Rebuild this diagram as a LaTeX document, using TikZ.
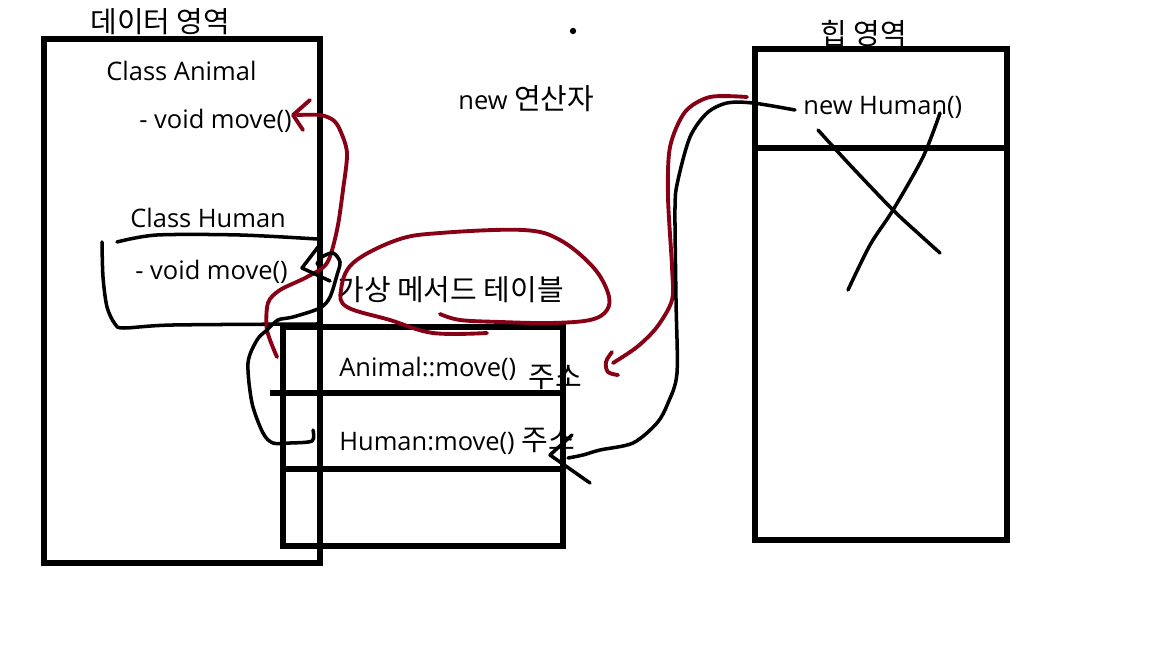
\documentclass[tikz,border=0pt]{standalone}
\usepackage{fontspec}
\setmainfont{Open Sans}
\newfontfamily\krfont{Noto Sans CJK KR}
\newcommand\kr{\krfont\fontsize{16.5}{19}\selectfont}
\usetikzlibrary{calc}
\definecolor{paintred}{RGB}{136,0,21}
\tikzset{
  box/.style={line width=3pt, line cap=rect},
  pen/.style={line width=2pt, line cap=round, line join=round},
  redpen/.style={pen, color=paintred, line width=2.2pt},
  txt/.style={anchor=base west, inner sep=0pt, font=\fontsize{14.5}{17}\selectfont},
}

\begin{document}
\begin{tikzpicture}[x=0.02cm, y=-0.02cm]
  %%%%% START %%%%%
  \useasboundingbox[fill=white] (0,0) rectangle (1152,648);

  % data area
  \draw[box] (44,39) rectangle (320,563);
  \node[txt] (datalbl) at (90,33) {\kr 데이터 영역};
  \node[txt] (animal) at (106,81) {Class Animal};
  \node[txt] (amove) at (139,129) {- void move()};
  \node[txt] (human) at (130,228) {Class Human};
  \node[txt] (hmove) at (135,280) {- void move()};

  % loop round Human's method
  \draw[pen] plot[smooth, tension=0.5] coordinates {(117,242) (157,235) (240,235) (317,239)};
  \draw[pen] plot[smooth, tension=0.5] coordinates {(102,242) (103,277) (107,307) (115,324) (124,328) (173,325) (318,324)};

  % virtual method table
  \draw[box] (283,327) rectangle (563,546);
  \draw[box] (273,393) -- (563,393);
  \draw[box] (283,469) -- (563,469);
  \node[txt] (vtlbl) at (337,300) {\kr 가상 메서드 테이블};
  \node[txt] (arow) at (339,377) {Animal::move()};
  \node[txt] (aaddr) at (528,387) {\kr 주소};
  \node[txt] (hrow) at (339,450) {Human:move() {\kr 주소}};

  % heap area
  \draw[box] (755,49) rectangle (1007,540);
  \draw[box] (758,148) -- (1007,148);
  \node[txt] (heaplbl) at (820,45) {\kr 힙 영역};
  \node[txt] (newhuman) at (803,115) {new Human()};
  \draw[pen] plot[smooth, tension=0.5] coordinates {(818,130) (850,165) (893,210) (920,235) (940,253)};
  \draw[pen] plot[smooth, tension=0.5] coordinates {(940,113) (923,157) (893,210) (870,245) (848,290)};

  \node[txt] (newop) at (458,110) {new {\kr 연산자}};
  \fill (573,31) circle (1.8pt);

  % red marks
  \draw[redpen] plot[smooth, tension=0.6] coordinates {(440,314) (460,320) (500,322) (550,323) (590,320) (607,310) (608,293) (593,267) (560,240) (523,230) (440,233) (397,240) (353,263) (341,290) (347,307) (390,320) (433,333) (487,333)};
  \draw[redpen] plot[smooth, tension=0.5] coordinates {(277,357) (267,330) (268,303) (280,290) (307,277) (327,263) (337,230) (343,190) (347,153) (340,130) (333,120) (320,115) (297,115)};
  \draw[redpen] (310,100) -- (293,115) -- (303,130);
  \draw[redpen] plot[smooth, tension=0.5] coordinates {(747,97) (710,97) (685,112) (670,147) (668,197) (672,267) (672,300) (657,327) (637,347) (613,363)};
  \draw[redpen] plot[smooth, tension=0.6] coordinates {(612,352) (606,362) (608,372) (618,375)};

  % black arrows
  \draw[pen] plot[smooth, tension=0.5] coordinates {(795,110) (753,103) (727,103) (707,113) (690,137) (678,180) (675,207) (676,300) (677,373) (668,403) (657,423) (633,443) (600,450) (583,455) (568,458)};
  \draw[pen] (572,435) -- (550,455) -- (590,483);
  \draw[pen] plot[smooth, tension=0.5] coordinates {(313,430) (312,441) (290,443) (273,443) (263,433) (252,403) (248,363) (257,340) (267,330) (278,320) (293,317) (320,308) (330,297) (337,275) (340,262) (333,253) (322,257) (317,264)};
  \draw[pen] (318,247) -- (302,268) -- (330,281);
  %%%%% END %%%%%
\end{tikzpicture}
\end{document}
